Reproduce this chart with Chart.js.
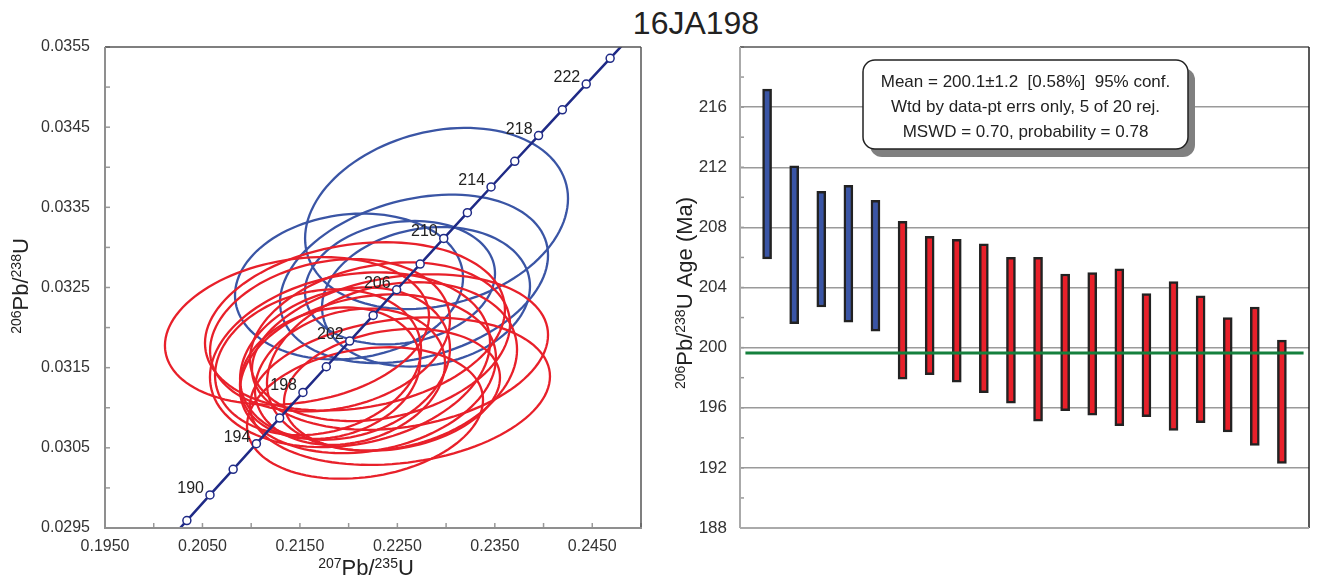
<!DOCTYPE html>
<html>
<head>
<meta charset="utf-8">
<script src="https://cdn.jsdelivr.net/npm/chart.js@4.4.1/dist/chart.umd.min.js"></script>
<style>
  body { margin: 0; background: #fff; width: 1318px; height: 580px; position: relative; overflow: hidden; font-family: "Liberation Sans", Arial, sans-serif; }
  #title { position: absolute; left: 596px; width: 200px; top: 7px; text-align: center; font-size: 32px; line-height: 32px; color: #222; }
  #wrapL { position: absolute; left: 0; top: 0; width: 650px; height: 580px; }
  #wrapR { position: absolute; left: 650px; top: 0; width: 668px; height: 580px; }
</style>
</head>
<body>
<div id="title">16JA198</div>
<div id="wrapL"><canvas id="concordia"></canvas></div>
<div id="wrapR"><canvas id="ages"></canvas></div>
<script>
const FONT = '"Liberation Sans", Arial, sans-serif';

// concordia curve (Ma, 207Pb/235U, 206Pb/238U)
const concAge = [186, 188, 190, 192, 194, 196, 198, 200, 202, 204, 206, 208, 210, 212, 214, 216, 218, 220, 222, 224, 226];
const concX = [0.201033, 0.203401, 0.205773, 0.208151, 0.210533, 0.212920, 0.215311, 0.217708, 0.220109, 0.222514, 0.224925,
               0.227340, 0.229760, 0.232184, 0.234614, 0.237048, 0.239487, 0.241931, 0.244379, 0.246833, 0.249291];
const concY = [0.0292735, 0.0295929, 0.0299124, 0.0302319, 0.0305516, 0.0308714, 0.0311913, 0.0315113, 0.0318313, 0.0321515, 0.0324718,
               0.0327922, 0.0331126, 0.0334332, 0.0337539, 0.0340746, 0.0343955, 0.0347165, 0.0350375, 0.0353587, 0.0356800];
const concLabelAges = [190, 194, 198, 202, 206, 210, 214, 218, 222];

// analyses: error ellipses (centre, half extents, rho) and 206/238 ages
const rejected = [1, 1, 1, 1, 1, 0, 0, 0, 0, 0, 0, 0, 0, 0, 0, 0, 0, 0, 0, 0];
const ellX = [0.22902, 0.22671, 0.22527, 0.22004, 0.22794, 0.22065, 0.21470, 0.21809, 0.22322, 0.22527,
              0.22014, 0.21686, 0.21963, 0.22445, 0.21809, 0.22199, 0.22014, 0.22445, 0.22527, 0.22168];
const ellY = [0.033361, 0.032608, 0.032560, 0.032512, 0.032384, 0.032015, 0.031959, 0.031904, 0.031824, 0.031695,
              0.031599, 0.031568, 0.031551, 0.031516, 0.031431, 0.031424, 0.031387, 0.031224, 0.031207, 0.030935];
const ellSX = [0.01349, 0.01375, 0.00975, 0.01170, 0.01067, 0.01539, 0.01355, 0.01231, 0.01334, 0.01519,
               0.01437, 0.01057, 0.01077, 0.01283, 0.00924, 0.01313, 0.00975, 0.01108, 0.01539, 0.01211];
const ellSY = [0.00113, 0.00105, 0.00077, 0.00091, 0.00087, 0.00105, 0.00092, 0.00095, 0.00099, 0.00097,
               0.00109, 0.00091, 0.00095, 0.00105, 0.00082, 0.00099, 0.00085, 0.00076, 0.00092, 0.00082];
const ellRho = [0.22, 0.28, 0.15, 0.12, 0.15, 0.2, 0.2, 0.2, 0.22, 0.22, 0.2, 0.18, 0.2, 0.2, 0.18, 0.2, 0.2, 0.2, 0.2, 0.2];

const ageLow = [205.9, 201.6, 202.7, 201.7, 201.1, 197.9, 198.2, 197.7, 197.0, 196.3,
                195.1, 195.8, 195.5, 194.8, 195.4, 194.5, 195.0, 194.4, 193.5, 192.3];
const ageHigh = [217.2, 212.1, 210.4, 210.8, 209.8, 208.4, 207.4, 207.2, 206.9, 206.0,
                 206.0, 204.9, 205.0, 205.25, 203.6, 204.4, 203.45, 202.0, 202.7, 200.5];
const meanAge = 199.65;
const statLines = ['Mean = 200.1\u00b11.2  [0.58%]  95% conf.', 'Wtd by data-pt errs only, 5 of 20 rej.', 'MSWD = 0.70, probability = 0.78'];

const BLUE = '#3a55a5';
const RED = '#e8202a';

function drawSup(ctx, parts, x, y, rot) {
  ctx.save();
  ctx.translate(x, y);
  if (rot) ctx.rotate(rot);
  const big = '22px ' + FONT, small = '14px ' + FONT;
  let w = 0;
  parts.forEach(p => { ctx.font = p[1] ? small : big; w += ctx.measureText(p[0]).width; });
  let cx = -w / 2;
  ctx.fillStyle = '#222';
  ctx.textAlign = 'left';
  ctx.textBaseline = 'alphabetic';
  parts.forEach(p => {
    ctx.font = p[1] ? small : big;
    ctx.fillText(p[0], cx, p[1] ? -7 : 0);
    cx += ctx.measureText(p[0]).width;
  });
  ctx.restore();
}

function seg(ctx, x1, y1, x2, y2) {
  ctx.beginPath(); ctx.moveTo(x1, y1); ctx.lineTo(x2, y2); ctx.stroke();
}

// error ellipses, drawn under the concordia
const ellipses = {
  id: 'ellipses',
  beforeDatasetsDraw(chart) {
    const { ctx, chartArea: a, scales: { x, y } } = chart;
    ctx.save();
    ctx.beginPath(); ctx.rect(a.left, a.top, a.width, a.height); ctx.clip();
    ctx.lineWidth = 2.3;
    ellX.forEach((cx, i) => {
      const rho = ellRho[i], k = Math.sqrt(1 - rho * rho);
      ctx.strokeStyle = rejected[i] ? BLUE : RED;
      ctx.beginPath();
      for (let s = 0; s <= 120; s++) {
        const t = s / 120 * Math.PI * 2;
        const px = x.getPixelForValue(cx + ellSX[i] * Math.cos(t));
        const py = y.getPixelForValue(ellY[i] + ellSY[i] * (rho * Math.cos(t) + k * Math.sin(t)));
        if (s === 0) ctx.moveTo(px, py); else ctx.lineTo(px, py);
      }
      ctx.closePath();
      ctx.stroke();
    });
    ctx.restore();
  },
  afterDatasetsDraw(chart) {
    const { ctx, scales: { x, y } } = chart;
    ctx.save();
    ctx.font = '16px ' + FONT;
    ctx.fillStyle = '#222';
    ctx.textAlign = 'right';
    ctx.textBaseline = 'alphabetic';
    concLabelAges.forEach(age => {
      const i = concAge.indexOf(age);
      ctx.fillText(String(age), x.getPixelForValue(concX[i]) - 6, y.getPixelForValue(concY[i]) - 2);
    });
    ctx.restore();
  },
  afterDraw(chart) {
    const { ctx, chartArea: a, scales: { x, y } } = chart;
    ctx.save();
    ctx.strokeStyle = '#999';
    ctx.lineWidth = 1.5;
    x.ticks.forEach(t => { const px = x.getPixelForValue(t.value); seg(ctx, px, a.bottom, px, a.bottom - 5); });
    y.ticks.forEach(t => { const py = y.getPixelForValue(t.value); seg(ctx, a.left, py, a.left + 5, py); });
    ctx.strokeStyle = '#555';
    seg(ctx, a.left, a.top, a.right, a.top);
    seg(ctx, a.right, a.top, a.right, a.bottom);
    ctx.strokeStyle = '#8f8f8f';
    ctx.lineWidth = 2;
    seg(ctx, a.left, a.top, a.left, a.bottom + 1);
    seg(ctx, a.left - 1, a.bottom, a.right + 1, a.bottom);
    ctx.restore();
    drawSup(ctx, [['206', 1], ['Pb/', 0], ['238', 1], ['U', 0]], 28, 286, -Math.PI / 2);
    drawSup(ctx, [['207', 1], ['Pb/', 0], ['235', 1], ['U', 0]], 366, 575, 0);
  }
};

new Chart(document.getElementById('concordia'), {
  type: 'scatter',
  data: {
    datasets: [{
      data: concAge.map((a, i) => ({ x: concX[i], y: concY[i] })),
      showLine: true,
      borderColor: '#1f2a86',
      borderWidth: 2.5,
      pointRadius: 4,
      pointBackgroundColor: '#fff',
      pointBorderColor: '#1f2a86',
      pointBorderWidth: 1.5
    }]
  },
  options: {
    animation: false,
    responsive: true,
    maintainAspectRatio: false,
    layout: { padding: { top: 47, right: 9, left: 0, bottom: 0 } },
    plugins: { legend: { display: false }, tooltip: { enabled: false } },
    scales: {
      x: {
        type: 'linear', min: 0.195, max: 0.25,
        afterFit(s) { s.height = 52; },
        grid: { display: false, drawTicks: false },
        border: { display: false },
        ticks: {
          stepSize: 0.005, padding: 9, color: '#333', maxRotation: 0, autoSkip: false,
          font: { size: 16, family: FONT },
          callback: v => Math.round(v * 10000) % 100 === 50 ? v.toFixed(4) : ''
        }
      },
      y: {
        type: 'linear', min: 0.0295, max: 0.0355,
        afterFit(s) { s.width = 105; },
        grid: { display: false, drawTicks: false },
        border: { display: false },
        ticks: {
          stepSize: 0.0005, padding: 15, color: '#333', autoSkip: false,
          font: { size: 16, family: FONT },
          callback: v => Math.round(v * 10000) % 10 === 5 ? v.toFixed(4) : ''
        }
      }
    }
  },
  plugins: [ellipses]
});

// frame, minor ticks, stats box and axis title of the age plot
const ageDecor = {
  id: 'ageDecor',
  afterDraw(chart) {
    const { ctx, chartArea: a, scales: { y } } = chart;
    ctx.save();
    ctx.strokeStyle = '#999';
    ctx.lineWidth = 1.5;
    y.ticks.forEach(t => { const py = y.getPixelForValue(t.value); seg(ctx, a.left, py, a.left + 4, py); });
    ctx.strokeStyle = '#555';
    seg(ctx, a.left, a.top, a.right, a.top);
    ctx.strokeStyle = '#222';
    seg(ctx, a.right, a.top, a.right, a.bottom);
    ctx.strokeStyle = '#aaa';
    ctx.lineWidth = 2;
    seg(ctx, a.left, a.top, a.left, a.bottom);
    seg(ctx, a.left, a.bottom, a.right, a.bottom);

    const bx = 213, by = 60, bw = 325, bh = 89;
    ctx.fillStyle = '#808080';
    ctx.beginPath(); ctx.roundRect(bx + 7, by + 8, bw, bh, 12); ctx.fill();
    ctx.fillStyle = '#fff';
    ctx.strokeStyle = '#222';
    ctx.lineWidth = 1.5;
    ctx.beginPath(); ctx.roundRect(bx, by, bw, bh, 12); ctx.fill(); ctx.stroke();
    ctx.fillStyle = '#222';
    ctx.font = '17px ' + FONT;
    ctx.textAlign = 'center';
    ctx.textBaseline = 'alphabetic';
    statLines.forEach((s, i) => ctx.fillText(s, bx + bw / 2, by + 27 + i * 25));
    ctx.restore();
    drawSup(ctx, [['206', 1], ['Pb/', 0], ['238', 1], ['U Age (Ma)', 0]], 42, 293, -Math.PI / 2);
  }
};

new Chart(document.getElementById('ages'), {
  type: 'bar',
  data: {
    datasets: [{
      type: 'line',
      data: [{ x: 0.2, y: meanAge }, { x: 20.8, y: meanAge }],
      borderColor: '#15803d',
      borderWidth: 3,
      pointRadius: 0,
      order: 0
    }, {
      type: 'bar',
      data: ageLow.map((lo, i) => ({ x: i + 1, y: [lo, ageHigh[i]] })),
      backgroundColor: rejected.map(r => r ? BLUE : RED),
      borderColor: '#222',
      borderWidth: 2.5,
      borderSkipped: false,
      barThickness: 9,
      order: 1
    }]
  },
  options: {
    animation: false,
    responsive: true,
    maintainAspectRatio: false,
    layout: { padding: { top: 47, right: 9, left: 0, bottom: 0 } },
    plugins: { legend: { display: false }, tooltip: { enabled: false } },
    scales: {
      x: {
        type: 'linear', min: 0, max: 21, offset: false,
        afterFit(s) { s.height = 52; },
        grid: { display: false, drawTicks: false },
        border: { display: false },
        ticks: { display: false }
      },
      y: {
        min: 188, max: 220,
        afterFit(s) { s.width = 90; },
        grid: {
          drawTicks: false, lineWidth: 1.5,
          color: c => (c.tick.value % 4 === 0 && c.tick.value > 188 && c.tick.value < 220) ? '#9a9a9a' : 'rgba(0,0,0,0)'
        },
        border: { display: false },
        ticks: {
          stepSize: 2, padding: 13, color: '#333', autoSkip: false,
          font: { size: 17, family: FONT },
          callback: v => (v % 4 === 0 && v < 220) ? String(v) : ''
        }
      }
    }
  },
  plugins: [ageDecor]
});
</script>
</body>
</html>
